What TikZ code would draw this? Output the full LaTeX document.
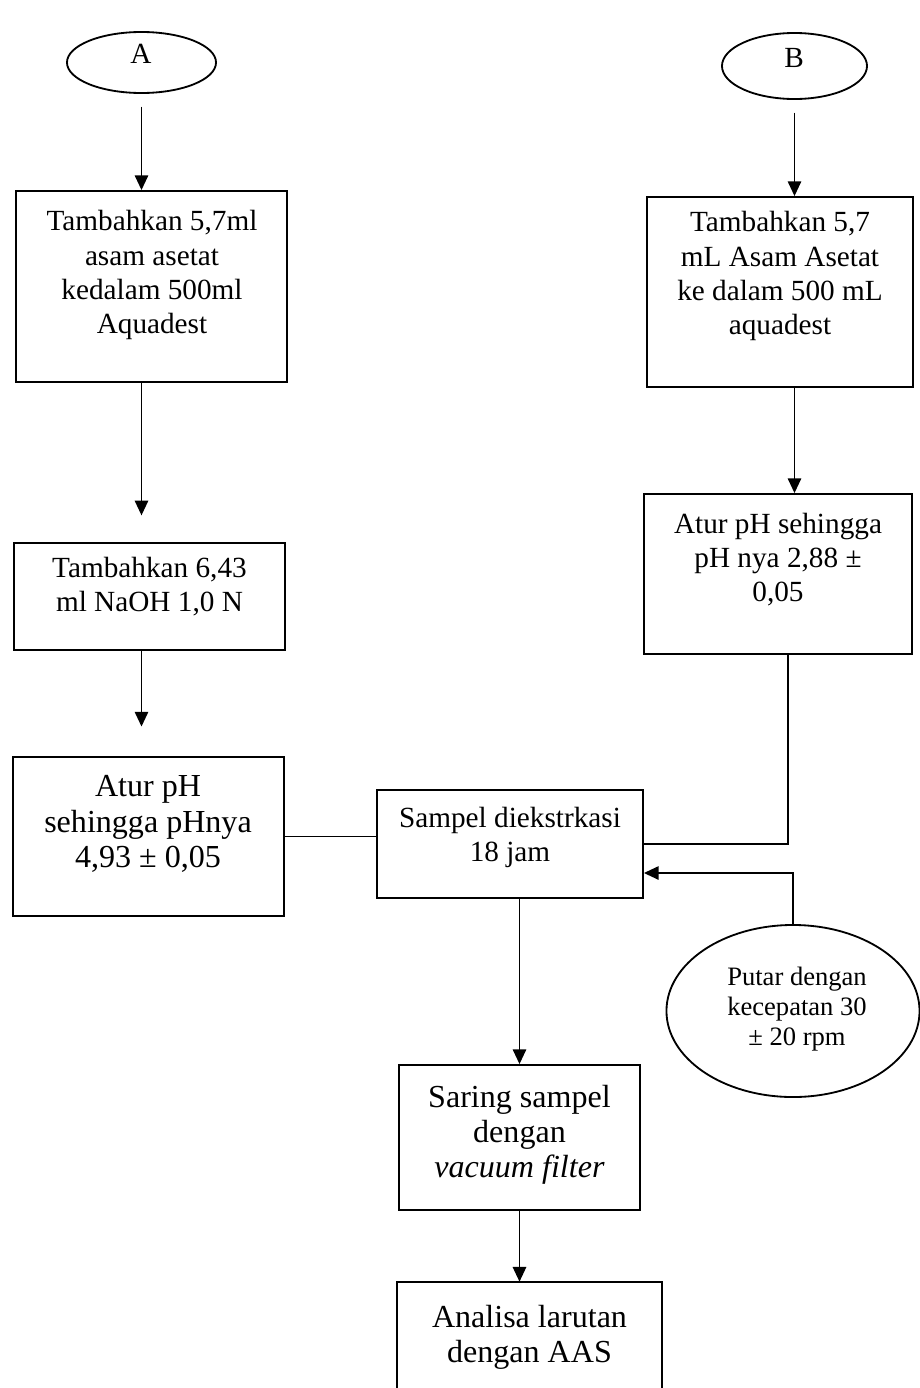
\documentclass[tikz,border=0pt]{standalone}
\usepackage{fontspec}
\setmainfont{Liberation Serif}
\usetikzlibrary{positioning,shapes.geometric,arrows.meta,fit,calc}

\begin{document}
\begin{tikzpicture}[x=0.025cm,y=-0.025cm,
  box/.style={draw,line width=1.3pt,inner sep=0pt},
  oval/.style={draw,ellipse,line width=1.3pt,inner sep=0pt},
  txt/.style={align=center,inner sep=0pt,font=\fontsize{20.8}{24.2}\selectfont},
  bigtxt/.style={txt,font=\fontsize{22.8}{25}\selectfont},
  smalltxt/.style={txt,font=\fontsize{18.9}{21.3}\selectfont},
  line/.style={line width=1.3pt},
  arr/.style={line,-{Triangle[length=10.5pt,width=9.5pt]}}]

\useasboundingbox (0,0) rectangle (920,1388);

\node[oval,minimum width=3.725cm,minimum height=1.525cm] (ellA) at (141.5,62.5) {};
\node[txt] (tA) at (141,54) {A};
\node[oval,minimum width=3.625cm,minimum height=1.65cm] (ellB) at (794.5,66) {};
\node[txt] (tB) at (794,58) {B};

\node[box,fit={(16,191) (287,382)}] (a1) {};
\node[txt] (ta1) at (152,275) {Tambahkan 5,7ml\\asam asetat\\kedalam 500ml\\Aquadest};
\node[box,fit={(14,543) (285,650)}] (a2) {};
\node[txt] (ta2) at (149.5,587) {Tambahkan 6,43\\ml NaOH 1,0 N};
\node[box,fit={(13,757) (284,916)}] (a3) {};
\node[bigtxt] (ta3) at (148,824) {Atur pH\\sehingga pHnya\\4,93 ± 0,05};

\node[box,fit={(647,197) (913,387)}] (b1) {};
\node[txt] (tb1) at (780,276) {Tambahkan 5,7\\mL Asam Asetat\\ke dalam 500 mL\\aquadest};
\node[box,fit={(644,494) (912,654)}] (b2) {};
\node[txt] (tb2) at (778,560) {Atur pH sehingga\\pH nya 2,88 ±\\0,05};

\node[box,fit={(377,790) (643,898)}] (mid) {};
\node[txt] (tmid) at (510,837) {Sampel diekstrkasi\\18 jam};
\node[oval,minimum width=6.325cm,minimum height=4.3cm] (ellC) at (793,1011) {};
\node[smalltxt] (tC) at (797,1009) {Putar dengan\\kecepatan 30\\± 20 rpm};

\node[box,fit={(399,1065) (640,1210)}] (sar) {};
\node[bigtxt] (tsar) at (519.5,1135) {Saring sampel\\dengan\\\textit{vacuum filter}};
\node[inner sep=0pt,fit={(397,1282) (662,1388)}] (ana) {};
\node[bigtxt] (tana) at (529.5,1337) {Analisa larutan\\dengan AAS};
\draw[line] (ana.south west) |- (ana.north east) -- (ana.south east);

\draw[arr,shorten <=9pt] (ellA.south) -- (ellA.south |- a1.north);
\draw[arr,shorten >=19pt] (a1.south -| ellA.south) -- (a2.north -| ellA.south);
\draw[arr,shorten >=21pt] (a2.south -| ellA.south) -- (a3.north -| ellA.south);

\draw[arr,shorten <=9pt] (ellB.south) -- (ellB.south |- b1.north);
\draw[arr] (b1.south -| ellB.south) -- (b2.north -| ellB.south);
\draw[line] ($(b2.south)+(10,0)$) |- (mid.east);
\draw[arr] (ellC.north) |- ($(mid.east)+(0,29)$);

\draw[line] (a3.east) -- (a3.east -| mid.west);
\draw[arr] (mid.south -| sar.north) -- (sar.north);
\draw[arr] (sar.south) -- (sar.south |- ana.north);

\end{tikzpicture}
\end{document}
